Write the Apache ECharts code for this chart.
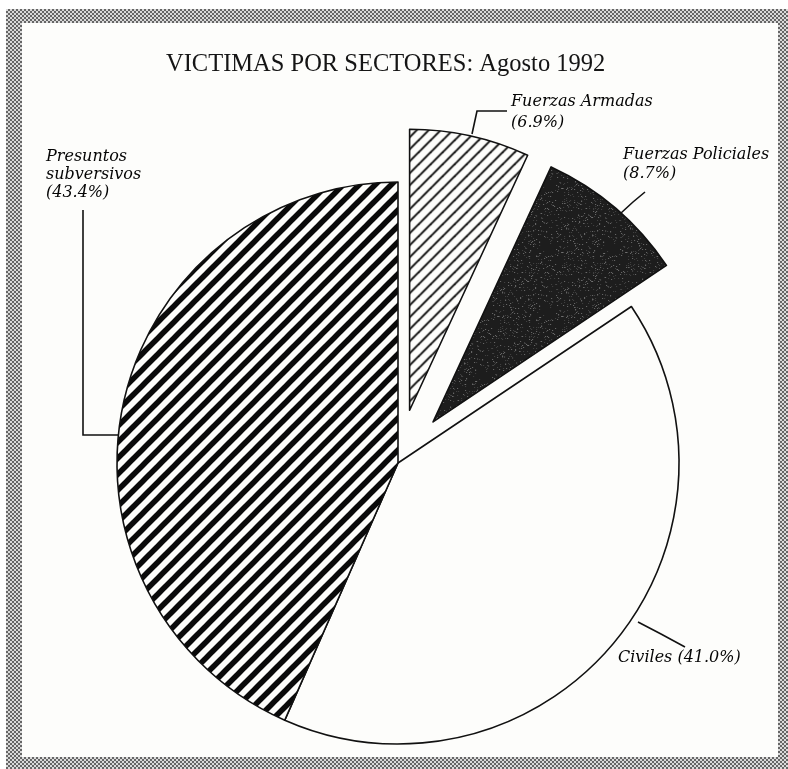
<!DOCTYPE html>
<html>
<head>
<meta charset="utf-8">
<script src="https://cdn.jsdelivr.net/npm/echarts@6/dist/echarts.min.js"></script>
<style>
  html, body { margin: 0; padding: 0; background: #fff; }
  #frame {
    position: absolute; left: 6px; top: 9px; width: 800px; height: 780px;
    background: repeating-conic-gradient(#666 0 25%, #dadada 0 50%) 0 0 / 4px 4px;
  }
  #paper { position: absolute; left: 22px; top: 23px; width: 756px; height: 734px; background: #fdfdfb; }
  #main { position: absolute; left: 0; top: 0; width: 788px; height: 769px; }
</style>
</head>
<body>
<div id="frame"></div>
<div id="paper"></div>
<div id="main"></div>
<script>
// datos (porcentajes), orden horario desde arriba
const sectors = ['Fuerzas Armadas', 'Fuerzas Policiales', 'Civiles', 'Presuntos subversivos'];
const labelNames = ['Fuerzas Armadas', 'Fuerzas Policiales', 'Civiles', 'Presuntos\nsubversivos'];
const labelSep = ['\n', '\n', ' ', '\n'];
const percents = [6.9, 8.7, 41.0, 43.4];
const exploded = [true, true, false, false];

// texturas
function stripes(size, width, bg) {
    const c = document.createElement('canvas');
    c.width = size; c.height = size;
    const ctx = c.getContext('2d');
    ctx.fillStyle = bg;
    ctx.fillRect(0, 0, size, size);
    ctx.strokeStyle = '#0a0a0a';
    ctx.lineWidth = width;
    // lineas largas para que no queden huecos en las esquinas del mosaico
    for (let k = -1; k <= 1; k++) {
        ctx.beginPath();
        ctx.moveTo(k * size - size, 2 * size);
        ctx.lineTo(k * size + 2 * size, -size);
        ctx.stroke();
    }
    return c;
}
function grain() {
    const c = document.createElement('canvas');
    c.width = 64; c.height = 64;
    const ctx = c.getContext('2d');
    ctx.fillStyle = '#1d1d1d';
    ctx.fillRect(0, 0, 64, 64);
    for (let y = 0; y < 64; y++) {
        for (let x = 0; x < 64; x++) {
            let h = Math.imul(x, 374761393) + Math.imul(y, 668265263);
            h = Math.imul(h ^ (h >>> 13), 1274126177);
            h = (h ^ (h >>> 16)) >>> 0;
            const v = h % 100;
            if (v < 9) {
                ctx.fillStyle = v < 3 ? '#707070' : '#444';
                ctx.fillRect(x, y, 1, 1);
            }
        }
    }
    return c;
}

const fills = [
    {image: stripes(12, 1.9, '#fdfdfb'), repeat: 'repeat'},
    {image: grain(), repeat: 'repeat'},
    '#fdfdfb',
    {image: stripes(16, 5.5, '#fdfdfb'), repeat: 'repeat'},
];

// posiciones de etiquetas (esquina sup. izq.) y lineas guia
const labelSpots = [
    {x: 511, y: 91, lh: 21, line: [[472, 134], [477, 111], [507, 111]]},
    {x: 623, y: 145, lh: 19, line: [[621, 213], [633, 202], [645, 192]]},
    {x: 618, y: 648, lh: 19, line: [[638, 622], [661, 634], [685, 647]]},
    {x: 46, y: 148, lh: 18, line: [[120, 435], [83, 435], [83, 210]]},
];

const labelGraphics = [];
sectors.forEach((name, i) => {
    const s = labelSpots[i];
    labelGraphics.push({
        type: 'text',
        x: s.x,
        y: s.y,
        silent: true,
        style: {
            text: labelNames[i] + labelSep[i] + '(' + percents[i].toFixed(1) + '%)',
            fontFamily: 'DejaVu Serif',
            fontStyle: 'italic',
            fontSize: 16,
            lineHeight: s.lh,
            fill: '#050505',
            textVerticalAlign: 'top',
        },
    });
    labelGraphics.push({
        type: 'polyline',
        silent: true,
        shape: {points: s.line},
        style: {stroke: '#111', lineWidth: 1.6, fill: null},
    });
});

const chart = echarts.init(document.getElementById('main'), null, {renderer: 'canvas'});

const pieData = sectors.map((name, i) => ({
    name,
    value: percents[i],
    selected: exploded[i],
    itemStyle: {color: fills[i]},
    select: {itemStyle: {color: fills[i], borderColor: '#111', borderWidth: 1.6}},
}));

chart.setOption({
    animation: false,
    title: {
        text: 'VICTIMAS POR SECTORES: Agosto 1992',
        left: 161,
        top: 47,
        textStyle: {fontFamily: 'Liberation Serif', fontSize: 24.5, fontWeight: 'normal', color: '#151515'},
    },
    graphic: labelGraphics,
    series: [{
        type: 'pie',
        center: [398, 463],
        radius: [0, 281],
        startAngle: 90,
        clockwise: true,
        selectedMode: 'multiple',
        selectedOffset: 54,
        emphasis: {disabled: true},
        itemStyle: {borderColor: '#111', borderWidth: 1.6},
        label: {show: false},
        labelLine: {show: false},
        data: pieData,
    }],
});
</script>
</body>
</html>
